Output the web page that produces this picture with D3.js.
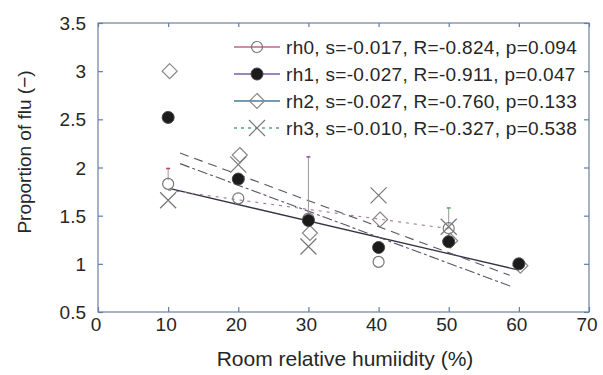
<!DOCTYPE html>
<html>
<head>
<meta charset="utf-8">
<script src="https://cdn.jsdelivr.net/npm/d3@7"></script>
<style>
body{margin:0;background:#fff;}
text{font-family:"Liberation Sans",Arial,sans-serif;fill:#262626;}
</style>
</head>
<body>
<div id="chart"></div>
<script>
// humidity levels (x) and proportion of flu per series
var humidity = [10, 20, 30, 40, 50, 60];
var rh0 = [1.83, 1.68, 1.47, 1.02, 1.37, null];
var rh1 = [2.52, 1.88, 1.45, 1.17, 1.23, 1.00];
var rh2 = [3.00, 2.13, 1.32, 1.46, 1.24, 0.98];
var rh3 = [1.66, 2.03, 1.18, 1.71, 1.385, null];

var seriesNames = ["rh0", "rh1", "rh2", "rh3"];
var legendLabels = [
    "rh0, s=-0.017, R=-0.824, p=0.094",
    "rh1, s=-0.027, R=-0.911, p=0.047",
    "rh2, s=-0.027, R=-0.760, p=0.133",
    "rh3, s=-0.010, R=-0.327, p=0.538"
];

// regression lines
var fitSlope = [-0.017, -0.027, -0.027, -0.010];
var fitIntercept = [1.955, 2.466, 2.356, 1.865];
var fitFrom = [10.3, 11.7, 11.7, 10];
var fitTo = [60, 58.7, 58.9, 50];

// error bars (x, low, high)
var errX = [10, 30, 50];
var errLow = [1.87, 1.50, 1.40];
var errHigh = [1.99, 2.11, 1.58];
var errCap = ["#c04050", "#9050a0", "#40b060"];

var xTicks = [0, 10, 20, 30, 40, 50, 60, 70];
var yTicks = [0.5, 1, 1.5, 2, 2.5, 3, 3.5];

function init(){
    var w = 603, h = 375;
    var left = 98, right = 589, top = 23, bottom = 312;

    var svg = d3.select("#chart")
        .append("svg")
        .attr("width", w)
        .attr("height", h);

    var xScale = d3.scaleLinear().domain([0, 70]).range([left, right]);
    var yScale = d3.scaleLinear().domain([0.5, 3.5]).range([bottom, top]);

    // ticks, inward on all sides
    var xAxisB = d3.axisBottom(xScale).tickValues(xTicks).tickSizeInner(-5).tickSizeOuter(0).tickFormat("");
    var xAxisT = d3.axisTop(xScale).tickValues(xTicks).tickSizeInner(-4).tickSizeOuter(0).tickFormat("");
    var yAxisL = d3.axisLeft(yScale).tickValues(yTicks).tickSizeInner(-5).tickSizeOuter(0).tickFormat("");
    var yAxisR = d3.axisRight(yScale).tickValues(yTicks).tickSizeInner(-5).tickSizeOuter(0).tickFormat("");

    svg.append("g").attr("transform", "translate(0," + bottom + ")").call(xAxisB);
    svg.append("g").attr("transform", "translate(0," + top + ")").call(xAxisT);
    svg.append("g").attr("transform", "translate(" + left + ",0)").call(yAxisL);
    svg.append("g").attr("transform", "translate(" + right + ",0)").call(yAxisR);
    svg.selectAll(".domain").remove();
    svg.selectAll(".tick line").style("stroke", "#5a7fb0").style("stroke-width", 1.2);

    svg.append("rect")
        .attr("x", left).attr("y", top)
        .attr("width", right - left).attr("height", bottom - top)
        .style("fill", "none")
        .style("stroke", "#6f7f9f")
        .style("stroke-width", 1.2);

    // tick labels
    svg.selectAll(".xlab")
        .data(xTicks)
        .enter().append("text")
        .attr("x", function(d){ return xScale(d) - 2; })
        .attr("y", 331)
        .attr("text-anchor", "middle")
        .style("font-size", "19px")
        .text(function(d){ return d; });

    svg.selectAll(".ylab")
        .data(yTicks)
        .enter().append("text")
        .attr("x", 86)
        .attr("y", function(d){ return yScale(d) + 7; })
        .attr("text-anchor", "end")
        .style("font-size", "19px")
        .text(function(d){ return d; });

    svg.append("text")
        .attr("x", 345)
        .attr("y", 366)
        .attr("text-anchor", "middle")
        .style("font-size", "21px")
        .text("Room relative humiidity (%)");

    svg.append("text")
        .attr("transform", "translate(31,152) rotate(-90)")
        .attr("text-anchor", "middle")
        .style("font-size", "19px")
        .text("Proportion of flu (\u2212)");

    // regression lines
    var dashes = [null, "9,6", "10,3,3,3", "3,5"];
    var fitColor = ["#334", "#556", "#556", "#a07a98"];
    for (var i = 0; i < 4; i++) {
        var pts = [fitFrom[i], fitTo[i]];
        svg.append("line")
            .attr("x1", xScale(pts[0]))
            .attr("y1", yScale(fitIntercept[i] + fitSlope[i] * pts[0]))
            .attr("x2", xScale(pts[1]))
            .attr("y2", yScale(fitIntercept[i] + fitSlope[i] * pts[1]))
            .style("stroke", fitColor[i])
            .style("stroke-width", i == 0 ? 1.3 : 1.1)
            .style("stroke-dasharray", dashes[i]);
    }

    // error bars
    for (var j = 0; j < errX.length; j++) {
        svg.append("line")
            .attr("x1", xScale(errX[j])).attr("x2", xScale(errX[j]))
            .attr("y1", yScale(errLow[j])).attr("y2", yScale(errHigh[j]))
            .style("stroke", "#999").style("stroke-width", 1);
        svg.append("line")
            .attr("x1", xScale(errX[j]) - 2).attr("x2", xScale(errX[j]) + 2)
            .attr("y1", yScale(errHigh[j])).attr("y2", yScale(errHigh[j]))
            .style("stroke", errCap[j]).style("stroke-width", 1.5);
    }

    var series = [rh0, rh1, rh2, rh3];

    function drawMarker(g, k, cx, cy){
        if (k == 0) {
            g.append("circle").attr("cx", cx).attr("cy", cy).attr("r", 5.5)
                .style("fill", "none").style("stroke", "#777").style("stroke-width", 1.2);
        } else if (k == 1) {
            g.append("circle").attr("cx", cx).attr("cy", cy).attr("r", 6)
                .style("fill", "#1b1b1b").style("stroke", "#444").style("stroke-width", 1);
        } else if (k == 2) {
            var s = 7.5;
            g.append("path")
                .attr("d", "M" + cx + "," + (cy - s) + "L" + (cx + s) + "," + cy + "L" + cx + "," + (cy + s) + "L" + (cx - s) + "," + cy + "Z")
                .style("fill", "none").style("stroke", "#888").style("stroke-width", 1.2);
        } else {
            var s3 = 8;
            g.append("path")
                .attr("d", "M" + (cx - s3) + "," + (cy - s3) + "L" + (cx + s3) + "," + (cy + s3) + "M" + (cx - s3) + "," + (cy + s3) + "L" + (cx + s3) + "," + (cy - s3))
                .style("fill", "none").style("stroke", "#777").style("stroke-width", 1.2);
        }
    }

    // markers; draw order so the filled dots sit on top
    var order = [2, 3, 0, 1];
    order.forEach(function(k){
        var g = svg.append("g").attr("class", seriesNames[k]);
        var offset = (k == 2) ? 1.5 : 0;
        humidity.forEach(function(x, idx){
            var v = series[k][idx];
            if (v == null) return;
            drawMarker(g, k, xScale(x) + offset, yScale(v));
        });
    });

    // legend
    var legendColor = ["#b86a88", "#8058a8", "#4a7a9a", "#5aa090"];
    var legendDash = [null, null, null, "3,4"];
    var legendY = [47, 74, 101, 128];
    var legend = svg.append("g").attr("class", "legend");
    for (var m = 0; m < 4; m++) {
        legend.append("rect")
            .attr("x", 232).attr("y", legendY[m] - 10)
            .attr("width", 350).attr("height", 20)
            .style("fill", "#fff");
        legend.append("line")
            .attr("x1", 234).attr("x2", 280)
            .attr("y1", legendY[m]).attr("y2", legendY[m])
            .style("stroke", legendColor[m])
            .style("stroke-width", 1.3)
            .style("stroke-dasharray", legendDash[m]);
        drawMarker(legend, m, 257, legendY[m]);
        legend.append("text")
            .attr("x", 286)
            .attr("y", legendY[m] + 7)
            .style("font-size", "19px")
            .style("letter-spacing", "0.3px")
            .text(legendLabels[m]);
    }
}

init();
</script>
</body>
</html>
